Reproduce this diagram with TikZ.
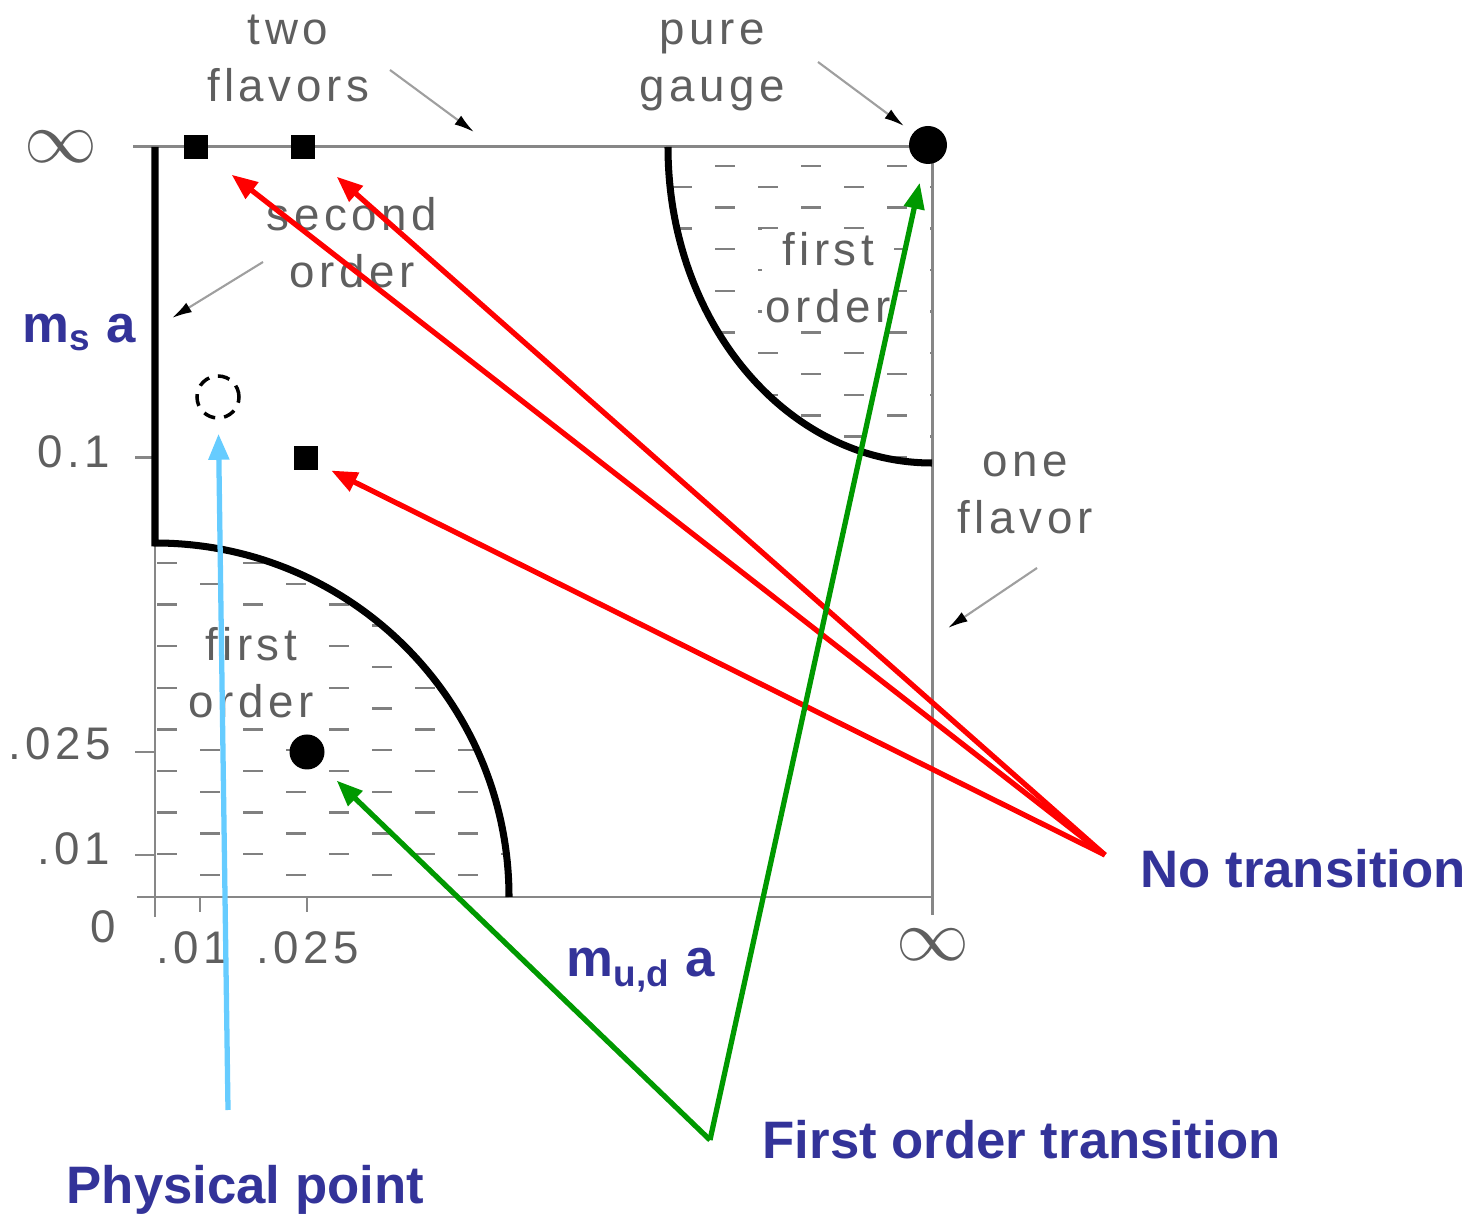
\documentclass[tikz,border=0pt]{standalone}
\usepackage{fontspec}
\setmainfont{Liberation Sans}
\newfontfamily\scanfont[LetterSpace=10]{Liberation Sans}
\usetikzlibrary{arrows.meta}

\definecolor{labblue}{RGB}{51,51,153}
\definecolor{arrgreen}{RGB}{0,153,0}
\definecolor{arrcyan}{RGB}{102,204,255}
\definecolor{inkgray}{RGB}{95,95,95}
\definecolor{axisgray}{RGB}{135,135,135}

\tikzset{
    scan/.style={text=inkgray, font=\scanfont\fontsize{13}{16.2}\selectfont, align=center, inner sep=1pt},
    infty/.style={text=inkgray, font=\fontsize{22}{24}\selectfont, inner sep=0pt},
    axisline/.style={draw=axisgray, line width=0.85pt},
    phase/.style={draw=black, line width=2pt},
    hatch/.style={draw=gray, line width=0.65pt},
    sqmark/.style={fill=black, minimum size=0.24cm, inner sep=0pt},
    dotmark/.style={circle, fill=black, minimum size=#1, inner sep=0pt},
    callout/.style={text=labblue, font=\bfseries\fontsize{15}{18}\selectfont, anchor=base west, inner sep=0pt},
    pointer/.style={draw=gray!75, line width=0.6pt, -{Latex[length=0.2cm,width=0.11cm,color=black]}},
    redarr/.style={draw=red, line width=1.5pt, -{Triangle[length=0.26cm,width=0.2cm]}},
    greenarr/.style={draw=arrgreen, line width=1.5pt, -{Triangle[length=0.26cm,width=0.2cm]}},
    cyanarr/.style={draw=arrcyan, line width=1.5pt, -{Triangle[length=0.26cm,width=0.2cm]}},
}

\begin{document}
\begin{tikzpicture}
    \useasboundingbox (0,0) rectangle (14.75,12.15);

    \coordinate (O) at (1.55,3.18);
    \coordinate (TL) at (1.55,10.68);
    \coordinate (TR) at (9.32,10.68);
    \coordinate (BR) at (9.32,3.18);
    \coordinate (A) at (1.55,6.72);
    \coordinate (B) at (6.68,10.68);

    % hatched first order regions
    \begin{scope}
        \clip (O) -- (A) arc[start angle=90, end angle=0, radius=3.54] -- cycle;
        \foreach \i in {0,...,15}{
            \pgfmathsetmacro{\yy}{6.52-0.208*\i}
            \pgfmathsetmacro{\xx}{1.57+0.43*mod(\i,2)}
            \foreach \j in {0,...,4}
                \draw[hatch] ({\xx+0.86*\j},\yy) -- ++(0.2,0);
        }
    \end{scope}
    \begin{scope}
        \clip (B) arc[start angle=180, end angle=270, x radius=2.64, y radius=3.16] -- (TR) -- cycle;
        \foreach \i in {0,...,14}{
            \pgfmathsetmacro{\yy}{10.49-0.208*\i}
            \pgfmathsetmacro{\xx}{7.15+0.43*mod(\i,2)}
            \foreach \j in {-1,...,2}
                \draw[hatch] ({\xx+0.86*\j},\yy) -- ++(0.2,0);
        }
    \end{scope}

    % axes and box
    \draw[axisline] (1.33,10.68) -- (TR) -- (9.32,3.00);
    \draw[axisline] (1.37,3.18) -- (BR);
    \draw[axisline] (TL) -- (1.55,2.98);
    \draw[axisline] (1.35,7.57) -- (1.55,7.57);
    \draw[axisline] (1.35,4.63) -- (1.55,4.63);
    \draw[axisline] (1.35,3.60) -- (1.55,3.60);
    \draw[axisline] (2.00,3.18) -- (2.00,3.03);
    \draw[axisline] (3.07,3.18) -- (3.07,3.03);

    % phase boundaries
    \draw[phase] (TL) -- (A) arc[start angle=90, end angle=0, radius=3.54];
    \draw[phase] (B) arc[start angle=180, end angle=270, x radius=2.64, y radius=3.16];

    % tick labels
    \node[infty] (yinf) at (0.61,10.68) {$\infty$};
    \node[scan] (y1) at (0.74,7.63) {0.1};
    \node[scan] (y2) at (0.60,4.71) {.025};
    \node[scan] (y3) at (0.74,3.66) {.01};
    \node[scan] (y0) at (1.03,2.88) {0};
    \node[scan] (x1) at (1.93,2.67) {.01};
    \node[scan] (x2) at (3.08,2.67) {.025};
    \node[infty] (xinf) at (9.33,2.70) {$\infty$};

    % region labels
    \node[scan] (twofl) at (2.88,11.57) {two\\flavors};
    \node[scan] (gauge) at (7.12,11.50) {pure\\gauge};
    \node[scan] (second) at (3.52,9.72) {second\\order};
    \node[scan, fill=white] (firstTR) at (8.28,9.37) {first\\order};
    \node[scan, fill=white] (firstBL) at (2.51,5.42) {first\\order};
    \node[scan] (onefl) at (10.25,7.22) {one\\flavor};

    \coordinate (tfs) at (3.90,11.45);
    \coordinate (tfe) at (4.74,10.83);
    \coordinate (pgs) at (8.18,11.53);
    \coordinate (pge) at (9.04,10.89);
    \coordinate (sos) at (2.63,9.53);
    \coordinate (soe) at (1.72,8.97);
    \coordinate (ofs) at (10.37,6.47);
    \coordinate (ofe) at (9.48,5.87);
    \draw[pointer] (tfs) -- (tfe);
    \draw[pointer] (pgs) -- (pge);
    \draw[pointer] (sos) -- (soe);
    \draw[pointer] (ofs) -- (ofe);

    % simulation points
    \node[sqmark] (sqa) at (1.96,10.68) {};
    \node[sqmark] (sqb) at (3.03,10.68) {};
    \node[sqmark] (sqc) at (3.06,7.57) {};
    \node[dotmark=0.38cm] (gauge pt) at (9.28,10.70) {};
    \node[dotmark=0.35cm] (light pt) at (3.07,4.63) {};
    \node[circle, draw=black, line width=1pt, dash pattern=on 0.12cm off 0.09cm,
        minimum size=0.42cm, inner sep=0pt] (phys) at (2.18,8.18) {};

    % axis titles and callouts
    \node[callout] (msa) at (0.22,8.72) {m\textsubscript{s} a};
    \node[callout] (mua) at (5.66,2.38) {m\textsubscript{u,d} a};
    \node[callout] (notrans) at (11.40,3.28) {No transition};
    \node[callout] (firsttrans) at (7.62,0.57) {First order transition};
    \node[callout] (physlab) at (0.66,0.12) {Physical point};

    \coordinate (ntfoot) at (11.05,3.60);
    \coordinate (ftfoot) at (7.10,0.75);
    \coordinate (ppfoot) at (2.28,1.05);

    \draw[redarr, shorten >=0.29cm] (ntfoot) -- (sqa);
    \draw[redarr, shorten >=0.28cm] (ntfoot) -- (sqb);
    \draw[redarr, shorten >=0.14cm] (ntfoot) -- (sqc);
    \draw[greenarr, shorten >=0.19cm] (ftfoot) -- (gauge pt);
    \draw[greenarr, shorten >=0.23cm] (ftfoot) -- (light pt);
    \draw[cyanarr, shorten >=0.14cm] (ppfoot) -- (phys);
\end{tikzpicture}
\end{document}
